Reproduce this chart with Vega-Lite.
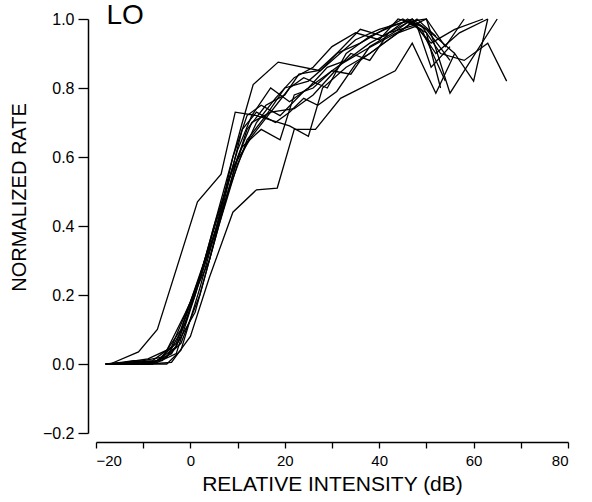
{
  "$schema": "https://vega.github.io/schema/vega-lite/v6.json",
  "width": 472,
  "height": 414,
  "autosize": "none",
  "padding": {"left": 96, "top": 19, "right": 24, "bottom": 69},
  "background": "white",
  "config": {
    "view": {"stroke": null},
    "font": "Liberation Sans",
    "axis": {
      "grid": false,
      "domainColor": "black",
      "domainWidth": 1.5,
      "tickColor": "black",
      "tickWidth": 1.3,
      "labelColor": "black",
      "titleColor": "black",
      "labelFont": "Liberation Sans",
      "titleFont": "Liberation Sans",
      "titleFontWeight": "normal",
      "labelFontSize": 15,
      "titleFontSize": 20
    }
  },
  "datasets": {
    "curves": [
      {"c":1,"x":-17,"y":0},{"c":1,"x":-11,"y":0.035},{"c":1,"x":-7,"y":0.1},{"c":1,"x":1.5,"y":0.47},{"c":1,"x":6.5,"y":0.55},{"c":1,"x":9.5,"y":0.73},{"c":1,"x":14,"y":0.72},{"c":1,"x":21,"y":0.69},{"c":1,"x":25,"y":0.66},{"c":1,"x":28,"y":0.8},{"c":1,"x":33,"y":0.86},{"c":1,"x":38,"y":0.9},{"c":1,"x":43,"y":0.95},{"c":1,"x":47,"y":0.99},{"c":1,"x":51,"y":0.93},{"c":1,"x":56,"y":0.97},{"c":1,"x":62,"y":1.0},
      {"c":2,"x":-18,"y":0},{"c":2,"x":-12,"y":0},{"c":2,"x":-7,"y":0.01},{"c":2,"x":-3,"y":0.06},{"c":2,"x":2,"y":0.25},{"c":2,"x":7,"y":0.5},{"c":2,"x":11,"y":0.7},{"c":2,"x":13.3,"y":0.81},{"c":2,"x":18.6,"y":0.875},{"c":2,"x":27.5,"y":0.85},{"c":2,"x":31,"y":0.9},{"c":2,"x":36,"y":0.93},{"c":2,"x":41,"y":0.97},{"c":2,"x":45,"y":1.0},{"c":2,"x":49,"y":0.97},{"c":2,"x":54,"y":0.82},
      {"c":3,"x":-16,"y":0},{"c":3,"x":-10,"y":0.01},{"c":3,"x":-6,"y":0.02},{"c":3,"x":-2,"y":0.1},{"c":3,"x":3,"y":0.3},{"c":3,"x":7,"y":0.45},{"c":3,"x":10,"y":0.6},{"c":3,"x":13,"y":0.7},{"c":3,"x":17,"y":0.73},{"c":3,"x":21,"y":0.8},{"c":3,"x":24,"y":0.83},{"c":3,"x":29,"y":0.8},{"c":3,"x":33,"y":0.9},{"c":3,"x":38,"y":0.95},{"c":3,"x":43,"y":0.98},{"c":3,"x":47,"y":1.0},{"c":3,"x":52,"y":0.9},{"c":3,"x":57,"y":0.96},{"c":3,"x":63,"y":1.0},
      {"c":4,"x":-15,"y":0},{"c":4,"x":-9,"y":0},{"c":4,"x":-4,"y":0.005},{"c":4,"x":0,"y":0.08},{"c":4,"x":4,"y":0.25},{"c":4,"x":9,"y":0.44},{"c":4,"x":14,"y":0.505},{"c":4,"x":18.4,"y":0.51},{"c":4,"x":22,"y":0.68},{"c":4,"x":26.5,"y":0.68},{"c":4,"x":31.8,"y":0.77},{"c":4,"x":43.4,"y":0.85},{"c":4,"x":47,"y":0.93},{"c":4,"x":52,"y":0.785},{"c":4,"x":56,"y":0.9},{"c":4,"x":60,"y":0.82},{"c":4,"x":63,"y":1.0},
      {"c":5,"x":-18,"y":0},{"c":5,"x":-13,"y":0.005},{"c":5,"x":-8,"y":0.01},{"c":5,"x":-4,"y":0.05},{"c":5,"x":0,"y":0.18},{"c":5,"x":4,"y":0.33},{"c":5,"x":8,"y":0.5},{"c":5,"x":12,"y":0.65},{"c":5,"x":16,"y":0.72},{"c":5,"x":20,"y":0.8},{"c":5,"x":25,"y":0.82},{"c":5,"x":30,"y":0.88},{"c":5,"x":35,"y":0.94},{"c":5,"x":40,"y":0.97},{"c":5,"x":45,"y":0.99},{"c":5,"x":50,"y":1.0},{"c":5,"x":55,"y":0.785},{"c":5,"x":65,"y":1.0},
      {"c":6,"x":-17,"y":0},{"c":6,"x":-12,"y":0},{"c":6,"x":-8,"y":0.005},{"c":6,"x":-4,"y":0.03},{"c":6,"x":1,"y":0.15},{"c":6,"x":5,"y":0.35},{"c":6,"x":9,"y":0.55},{"c":6,"x":12,"y":0.68},{"c":6,"x":16,"y":0.75},{"c":6,"x":20,"y":0.78},{"c":6,"x":23,"y":0.84},{"c":6,"x":27,"y":0.85},{"c":6,"x":31,"y":0.9},{"c":6,"x":36,"y":0.97},{"c":6,"x":41,"y":0.95},{"c":6,"x":46,"y":1.0},{"c":6,"x":50,"y":0.97},{"c":6,"x":55,"y":0.88},
      {"c":7,"x":-16,"y":0},{"c":7,"x":-11,"y":0.005},{"c":7,"x":-6,"y":0.01},{"c":7,"x":-2,"y":0.06},{"c":7,"x":2,"y":0.2},{"c":7,"x":6,"y":0.4},{"c":7,"x":10,"y":0.58},{"c":7,"x":14,"y":0.7},{"c":7,"x":18,"y":0.77},{"c":7,"x":22,"y":0.83},{"c":7,"x":26,"y":0.86},{"c":7,"x":30,"y":0.92},{"c":7,"x":35,"y":0.96},{"c":7,"x":40,"y":0.94},{"c":7,"x":44,"y":1.0},{"c":7,"x":49,"y":0.98},{"c":7,"x":53,"y":0.9},{"c":7,"x":58,"y":0.88},{"c":7,"x":63,"y":0.93},{"c":7,"x":67,"y":0.82},
      {"c":8,"x":-18,"y":0},{"c":8,"x":-13,"y":0},{"c":8,"x":-9,"y":0},{"c":8,"x":-5,"y":0.02},{"c":8,"x":-1,"y":0.12},{"c":8,"x":3,"y":0.3},{"c":8,"x":7,"y":0.48},{"c":8,"x":10,"y":0.62},{"c":8,"x":13,"y":0.72},{"c":8,"x":17,"y":0.8},{"c":8,"x":21,"y":0.76},{"c":8,"x":25,"y":0.8},{"c":8,"x":29,"y":0.86},{"c":8,"x":33,"y":0.88},{"c":8,"x":38,"y":0.93},{"c":8,"x":42,"y":0.96},{"c":8,"x":46,"y":0.99},{"c":8,"x":50,"y":0.96},{"c":8,"x":53,"y":0.8},
      {"c":9,"x":-17,"y":0},{"c":9,"x":-12,"y":0.01},{"c":9,"x":-7,"y":0.005},{"c":9,"x":-3,"y":0.03},{"c":9,"x":1,"y":0.2},{"c":9,"x":5,"y":0.4},{"c":9,"x":9,"y":0.57},{"c":9,"x":13,"y":0.66},{"c":9,"x":17,"y":0.73},{"c":9,"x":22,"y":0.74},{"c":9,"x":26,"y":0.78},{"c":9,"x":30,"y":0.84},{"c":9,"x":34,"y":0.9},{"c":9,"x":38,"y":0.88},{"c":9,"x":42,"y":0.96},{"c":9,"x":47,"y":0.98},{"c":9,"x":50,"y":1.0},{"c":9,"x":54,"y":0.92},{"c":9,"x":58,"y":1.0},
      {"c":10,"x":-16,"y":0},{"c":10,"x":-10,"y":0},{"c":10,"x":-5,"y":0},{"c":10,"x":-2,"y":0.04},{"c":10,"x":2,"y":0.22},{"c":10,"x":6,"y":0.42},{"c":10,"x":9,"y":0.6},{"c":10,"x":12,"y":0.72},{"c":10,"x":15,"y":0.75},{"c":10,"x":19,"y":0.72},{"c":10,"x":24,"y":0.79},{"c":10,"x":28,"y":0.83},{"c":10,"x":32,"y":0.87},{"c":10,"x":37,"y":0.91},{"c":10,"x":41,"y":0.94},{"c":10,"x":45,"y":0.97},{"c":10,"x":48,"y":1.0},{"c":10,"x":52,"y":0.95},
      {"c":11,"x":-18,"y":0},{"c":11,"x":-14,"y":0.005},{"c":11,"x":-9,"y":0.015},{"c":11,"x":-5,"y":0.04},{"c":11,"x":-1,"y":0.15},{"c":11,"x":4,"y":0.3},{"c":11,"x":8,"y":0.52},{"c":11,"x":11,"y":0.68},{"c":11,"x":14,"y":0.73},{"c":11,"x":18,"y":0.7},{"c":11,"x":21,"y":0.73},{"c":11,"x":24,"y":0.77},{"c":11,"x":27,"y":0.75},{"c":11,"x":31,"y":0.79},{"c":11,"x":35,"y":0.87},{"c":11,"x":40,"y":0.92},{"c":11,"x":44,"y":0.96},{"c":11,"x":48,"y":0.98},{"c":11,"x":51,"y":0.86},{"c":11,"x":55,"y":0.92},
      {"c":12,"x":-17,"y":0},{"c":12,"x":-12,"y":0},{"c":12,"x":-8,"y":0},{"c":12,"x":-3,"y":0.05},{"c":12,"x":1,"y":0.2},{"c":12,"x":5,"y":0.37},{"c":12,"x":8,"y":0.53},{"c":12,"x":11,"y":0.63},{"c":12,"x":15,"y":0.68},{"c":12,"x":19,"y":0.65},{"c":12,"x":22,"y":0.78},{"c":12,"x":26,"y":0.8},{"c":12,"x":30,"y":0.85},{"c":12,"x":34,"y":0.84},{"c":12,"x":38,"y":0.92},{"c":12,"x":43,"y":0.96},{"c":12,"x":47,"y":1.0},{"c":12,"x":51,"y":0.96},{"c":12,"x":56,"y":0.9}
    ],
    "label": [{"text": "LO", "x": -17.8, "y": 1.008}]
  },
  "layer": [
    {
      "data": {"name": "curves"},
      "mark": {"type": "line", "color": "black", "strokeWidth": 1.3, "clip": false},
      "encoding": {
        "x": {
          "field": "x", "type": "quantitative",
          "scale": {"domain": [-20, 80], "nice": false, "zero": false},
          "axis": {
            "title": "RELATIVE INTENSITY (dB)",
            "titleFontSize": 21,
            "values": [-20, -10, 0, 10, 20, 30, 40, 50, 60, 70, 80],
            "labelExpr": "datum.value % 20 == 0 ? datum.label : ''",
            "offset": 9,
            "tickSize": 6,
            "labelPadding": 5,
            "titlePadding": 5
          }
        },
        "y": {
          "field": "y", "type": "quantitative",
          "scale": {"domain": [-0.2, 1.0], "nice": false, "zero": false},
          "axis": {
            "title": "NORMALIZED RATE",
            "titleFontSize": 20,
            "labelFontSize": 16,
            "values": [-0.2, -0.1, 0, 0.1, 0.2, 0.3, 0.4, 0.5, 0.6, 0.7, 0.8, 0.9, 1.0],
            "format": ".1f",
            "labelExpr": "round(datum.value * 10) % 2 == 0 ? datum.label : ''",
            "offset": 8,
            "tickSize": {"condition": {"test": "round(datum.value * 10) % 2 == 0", "value": 10}, "value": 5},
            "labelPadding": 4,
            "titleX": -59,
            "titleY": 178
          }
        },
        "detail": {"field": "c", "type": "nominal"}
      }
    },
    {
      "data": {"name": "label"},
      "mark": {"type": "text", "align": "left", "baseline": "middle", "fontSize": 28, "font": "Liberation Sans", "color": "black"},
      "encoding": {
        "x": {"field": "x", "type": "quantitative"},
        "y": {"field": "y", "type": "quantitative"},
        "text": {"field": "text"}
      }
    }
  ]
}
